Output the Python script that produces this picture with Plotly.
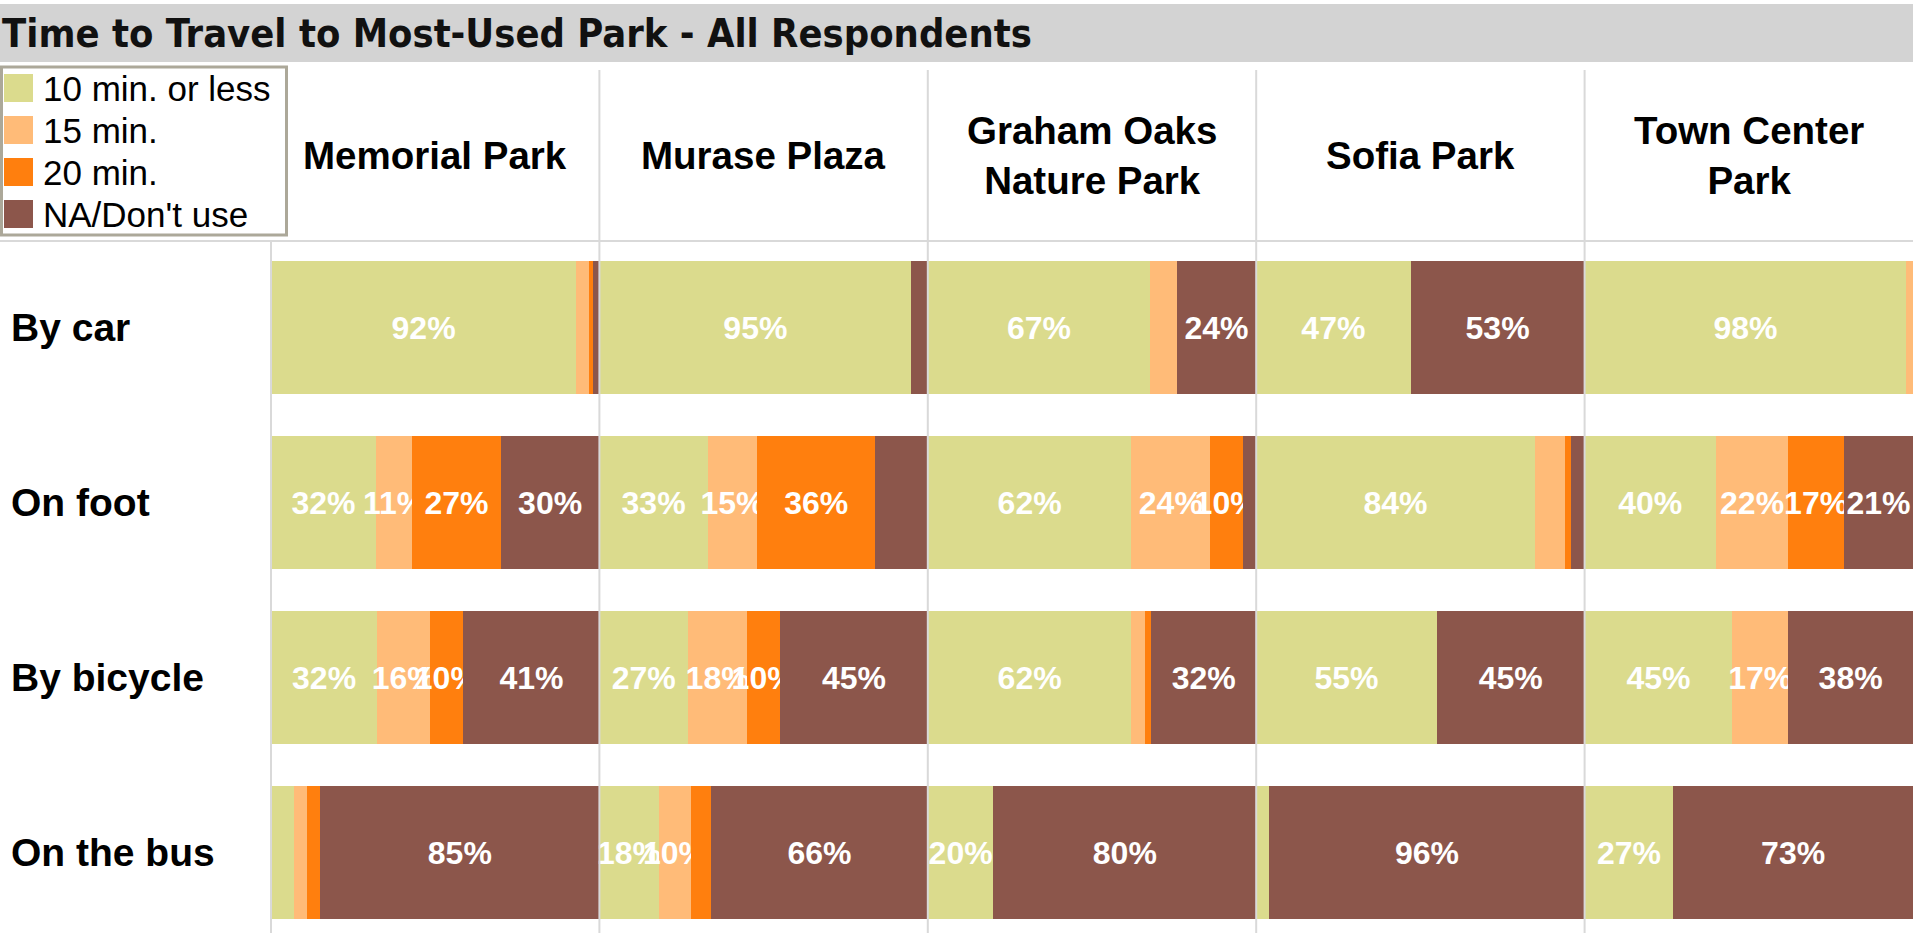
import plotly.graph_objects as go

# ---- data -----------------------------------------------------------------
parks = ["Memorial Park", "Murase Plaza", "Graham Oaks Nature Park", "Sofia Park", "Town Center Park"]
park_headers = ["Memorial Park", "Murase Plaza", "Graham Oaks<br>Nature Park", "Sofia Park", "Town Center<br>Park"]
modes = ["By car", "On foot", "By bicycle", "On the bus"]
series = ["10 min. or less", "15 min.", "20 min.", "NA/Don't use"]
colors = ["#dbdb8d", "#ffbb78", "#ff7f0e", "#8c564b"]

# percent of respondents; one row per park, one column per travel mode
min_10 = [[92, 32, 32, 7], [95, 33, 27, 18], [67, 62, 62, 20], [47, 84, 55, 4], [98, 40, 45, 27]]
min_15 = [[4, 11, 16, 4], [0, 15, 18, 10], [8, 24, 4, 0], [0, 9, 0, 0], [2, 22, 17, 0]]
min_20 = [[1, 27, 10, 4], [0, 36, 10, 6], [0, 10, 2, 0], [0, 2, 0, 0], [0, 17, 0, 0]]
na_dont_use = [[2, 30, 41, 85], [5, 16, 45, 66], [24, 4, 32, 80], [53, 4, 45, 96], [0, 21, 38, 73]]
series_values = [min_10, min_15, min_20, na_dont_use]

label_min = 10
unlabelled = {("Murase Plaza", "On foot", "NA/Don't use")}

# ---- page geometry (pixels) -------------------------------------------------
W, H = 1913, 933
PLOT_LEFT, PLOT_TOP = 271, 240
PANEL_W = (W - PLOT_LEFT) / len(parks)
ROW_PX = 175


def fx(x):
    return x / W


def fy(y):
    return 1 - y / H


fig = go.Figure()

for p, park in enumerate(parks):
    xname = "x" if p == 0 else f"x{p + 1}"
    for s, name in enumerate(series):
        vals = series_values[s][p]
        text = [
            f"{v}%" if v >= label_min and (park, m, name) not in unlabelled else ""
            for v, m in zip(vals, modes)
        ]
        fig.add_trace(go.Bar(
            y=modes, x=vals, orientation="h", name=name,
            xaxis=xname, yaxis="y",
            marker=dict(color=colors[s], line=dict(width=0)),
            text=text, textposition="inside", insidetextanchor="middle",
            textangle=0, constraintext="none", cliponaxis=False,
            textfont=dict(family="Liberation Sans, Arial, sans-serif", size=32,
                          color="white", weight="bold"),
            showlegend=False, hoverinfo="skip",
        ))

layout_axes = {}
for p in range(len(parks)):
    key = "xaxis" if p == 0 else f"xaxis{p + 1}"
    x0 = PLOT_LEFT + p * PANEL_W
    layout_axes[key] = dict(
        domain=[fx(x0), fx(x0 + PANEL_W)], range=[0, 100],
        visible=False, fixedrange=True, anchor="y",
    )

y_bottom = -0.5 + (H - PLOT_TOP) / ROW_PX

fig.update_layout(
    width=W, height=H,
    margin=dict(l=0, r=0, t=0, b=0),
    paper_bgcolor="white", plot_bgcolor="white",
    barmode="stack", barnorm="percent", bargap=0.24,
    uniformtext=dict(minsize=32, mode="show"),
    yaxis=dict(domain=[0, fy(PLOT_TOP)], range=[y_bottom, -0.5],
               visible=False, fixedrange=True, type="category",
               categoryorder="array", categoryarray=modes),
    **layout_axes,
)

shapes = []
annotations = []

# title band
shapes.append(dict(type="rect", xref="paper", yref="paper",
                   x0=0, x1=1, y0=fy(62), y1=fy(4),
                   fillcolor="#d3d3d3", line=dict(width=0), layer="below"))
annotations.append(dict(
    text="Time to Travel to Most-Used Park - All Respondents",
    xref="paper", yref="paper", x=fx(0), y=fy(33),
    xanchor="left", yanchor="middle", showarrow=False,
    font=dict(family="DejaVu Sans Condensed, DejaVu Sans, sans-serif",
              size=39.5, color="#111111", weight="bold"),
))

# grid lines separating header, panels and rows area
grid = "#d9d9d9"
shapes.append(dict(type="line", xref="paper", yref="paper",
                   x0=0, x1=1, y0=fy(241), y1=fy(241),
                   line=dict(color=grid, width=2), layer="above"))
shapes.append(dict(type="line", xref="paper", yref="paper",
                   x0=fx(PLOT_LEFT), x1=fx(PLOT_LEFT), y0=fy(241), y1=0,
                   line=dict(color=grid, width=2), layer="above"))
for p in range(1, len(parks)):
    xb = fx(PLOT_LEFT + p * PANEL_W)
    shapes.append(dict(type="line", xref="paper", yref="paper",
                       x0=xb, x1=xb, y0=fy(70), y1=0,
                       line=dict(color=grid, width=2), layer="above"))

# column headers
for p, head in enumerate(park_headers):
    xref = "x domain" if p == 0 else f"x{p + 1} domain"
    annotations.append(dict(
        text=head, xref=xref, yref="paper", x=0.5, y=fy(155),
        xanchor="center", yanchor="middle", showarrow=False, align="center",
        font=dict(family="Liberation Sans, Arial, sans-serif", size=38.5,
                  color="black", weight="bold"),
    ))

# row labels
for m in modes:
    annotations.append(dict(
        text=m, xref="paper", yref="y", x=fx(9), y=m,
        xanchor="left", yanchor="middle", showarrow=False,
        font=dict(family="Liberation Sans, Arial, sans-serif", size=39,
                  color="black", weight="bold"),
    ))

# legend box
shapes.append(dict(type="rect", xref="paper", yref="paper",
                   x0=fx(1.5), x1=fx(286.5), y0=fy(235), y1=fy(67),
                   fillcolor="white", line=dict(color="#aca899", width=3)))
for s, name in enumerate(series):
    cy = 88 + 42 * s
    shapes.append(dict(type="rect", xref="paper", yref="paper",
                       x0=fx(4), x1=fx(33), y0=fy(cy + 14), y1=fy(cy - 14),
                       fillcolor=colors[s], line=dict(width=0)))
    annotations.append(dict(
        text=name, xref="paper", yref="paper", x=fx(41), y=fy(cy),
        xanchor="left", yanchor="middle", showarrow=False,
        font=dict(family="Liberation Sans, Arial, sans-serif", size=35, color="black"),
    ))

fig.update_layout(shapes=shapes, annotations=annotations)

fig.write_html("out.html")
